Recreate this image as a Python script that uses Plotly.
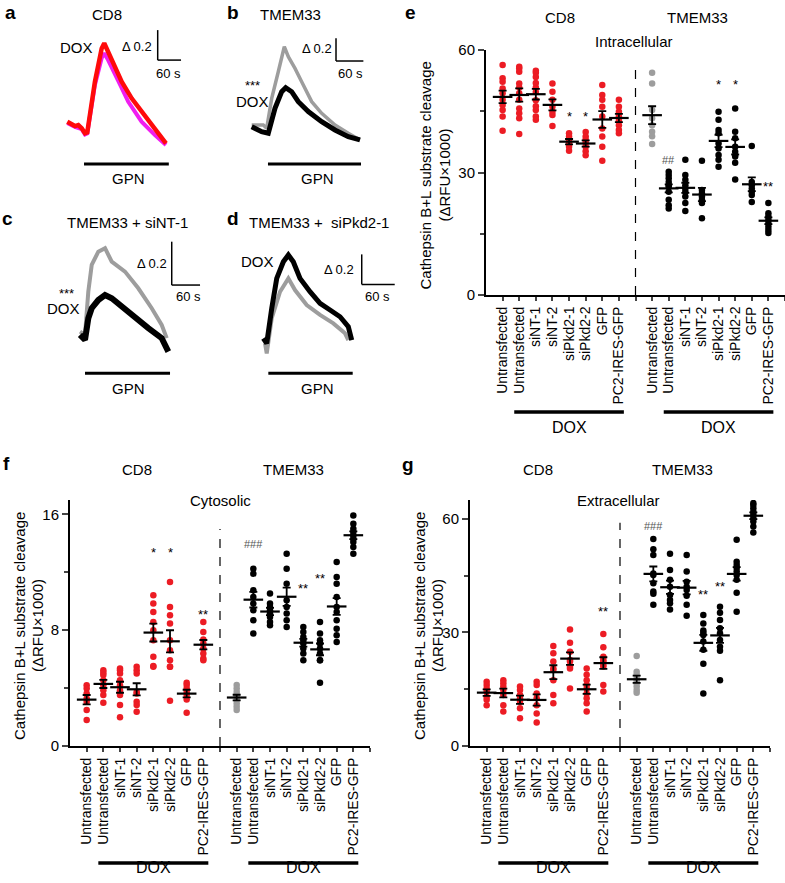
import numpy as np
import plotly.graph_objects as go

W, H = 785, 883
FONT = "Liberation Sans, Arial, sans-serif"
RED = "#ec1c24"
GRAY = "#9d9d9d"

# ---------- a-d : GPN traces (time in s, change in ratio) ----------
a_t_red = [0, 19.8, 28.3, 37, 45.5, 51.4, 71, 88.4, 95, 105, 122.6, 139.8, 165.5, 191, 217, 234, 253.7]
a_v_red = [0, -0.029, -0.022, -0.044, -0.077, -0.071, 0.267, 0.489, 0.523, 0.467, 0.356, 0.267,
           0.156, 0.067, -0.022, -0.077, -0.144]
a_t_mag = [0, 19.8, 37, 45.5, 51.4, 71, 88.4, 95, 105, 122.6, 139.8, 156.8, 191, 225.4, 253.7]
a_v_mag = [-0.009, -0.035, -0.05, -0.085, -0.078, 0.245, 0.425, 0.456, 0.411, 0.311, 0.225, 0.133,
           0, -0.089, -0.155]

b_t_gray = [0, 25.4, 32.9, 43.9, 58.3, 71.5, 80.3, 95, 109.6, 131.6, 153.5, 182.7, 211.8, 237.5]
b_v_gray = [0, 0, -0.029, 0.235, 0.47, 0.691, 0.603, 0.5, 0.382, 0.206, 0.103, 0, -0.073, -0.132]
b_t_black = [0, 21.9, 36.4, 51.1, 65.8, 74.6, 87.7, 102.2, 124.1, 153.5, 182.7, 211.8, 237.5]
b_v_black = [-0.015, -0.059, -0.073, 0.147, 0.294, 0.329, 0.294, 0.206, 0.118, 0.029, -0.044,
             -0.103, -0.132]

c_t_gray = [0, 10.6, 17.6, 24.8, 38.8, 53, 67.2, 95.3, 123.5, 151.9, 173.1, 183.7]
c_v_gray = [0, -0.015, 0.185, 0.308, 0.369, 0.385, 0.323, 0.277, 0.2, 0.108, 0.031, -0.03]
c_t_black = [0, 10.6, 17.6, 24.8, 38.8, 53, 67.2, 88.3, 116.5, 144.7, 173.1, 187.1]
c_v_black = [-0.015, -0.038, 0.062, 0.108, 0.146, 0.169, 0.154, 0.115, 0.062, 0.016, -0.03, -0.092]

d_t_black = [0, 6.2, 15.3, 24.4, 36.4, 45.5, 54.5, 66.7, 84.9, 103.1, 121.3, 139.5, 154.5, 160.7]
d_v_black = [0.033, 0, 0.233, 0.433, 0.544, 0.589, 0.544, 0.433, 0.344, 0.267, 0.222, 0.177,
             0.111, 0.022]
d_t_gray = [3.1, 6.2, 15.3, 30.4, 45.5, 57.6, 78.9, 103.1, 127.3, 148.5, 154.5]
d_v_gray = [0, -0.067, 0.167, 0.344, 0.433, 0.355, 0.255, 0.189, 0.133, 0.067, 0.022]

# GPN application (start, end) in s
gpn_a = (43, 261)
gpn_b = (35.7, 239.7)
gpn_c = (10.6, 190.7)
gpn_d = (9.1, 162.5)

# ---------- e-g : cathepsin B+L substrate cleavage (dRFU x 1000) ----------
categories = ["Untransfected", "Untransfected", "siNT-1", "siNT-2",
              "siPkd2-1", "siPkd2-2", "GFP", "PC2-IRES-GFP"]

e_cd8 = [
    [56.3, 53.1, 52.2, 50.6, 49.4, 47.8, 46.5, 45.3, 43.7, 40.2],
    [55.9, 55.5, 54.7, 51.8, 50.8, 49.4, 47.8, 45.7, 44.5, 43.3, 39.4],
    [54.9, 54.4, 53.4, 51.9, 50.8, 49.7, 47.7, 46.2, 45.3, 43.7, 42.9],
    [51.8, 49.8, 47.8, 46.1, 44.9, 44.1, 41.4],
    [39.6, 38.8, 38.0, 37.3, 36.3, 35.3],
    [39.9, 38.8, 38.0, 37.3, 36.3, 35.2, 34.2],
    [51.4, 49.0, 47.8, 46.1, 43.7, 40.8, 38.8, 36.3, 32.9],
    [47.8, 46.1, 44.9, 43.7, 42.7, 41.6, 40.4, 39.6],
]
e_tmem = [
    [54.4, 51.8, 45.3, 43.3, 41.6, 40.0, 38.9, 37.0],
    [30.2, 29.4, 28.6, 27.7, 26.9, 26.5, 25.3, 23.3, 22.0, 21.2],
    [33.1, 29.4, 28.2, 26.9, 26.1, 25.3, 24.1, 22.5, 20.6],
    [32.9, 25.7, 24.9, 24.1, 23.3, 22.5, 18.8],
    [44.9, 42.9, 40.4, 39.6, 37.1, 35.9, 34.3, 33.1, 31.4],
    [45.7, 40.0, 38.4, 36.3, 35.1, 33.9, 32.4, 28.3],
    [36.5, 27.7, 26.9, 26.1, 25.3, 24.5, 22.8],
    [22.5, 20.0, 19.2, 18.4, 17.6, 16.7, 15.9, 15.2],
]

f_cd8 = [
    [4.2, 3.98, 3.63, 3.29, 3.06, 2.48, 1.79],
    [5.24, 5.06, 4.9, 4.55, 4.2, 3.86, 3.52, 2.99],
    [5.36, 5.24, 5.01, 4.55, 4.2, 3.86, 3.52, 2.83, 1.98],
    [5.47, 5.24, 5.01, 3.74, 3.63, 3.06, 2.83, 2.37],
    [10.41, 9.84, 9.26, 8.57, 8.0, 7.31, 6.16, 5.47, 5.52],
    [11.33, 9.61, 9.03, 8.46, 7.31, 6.62, 5.93, 5.47, 5.47, 3.12],
    [4.37, 4.21, 3.98, 3.74, 3.52, 3.22, 2.3],
    [8.57, 7.88, 7.36, 7.08, 6.74, 6.39, 6.05, 5.93],
]
f_tmem = [
    [4.21, 3.98, 3.74, 3.52, 3.4, 3.17, 2.94, 2.71, 2.48],
    [12.25, 11.91, 10.76, 10.30, 9.84, 9.38, 8.69, 7.77],
    [10.53, 9.84, 9.61, 9.38, 9.15, 8.92, 8.57, 8.34],
    [13.29, 12.25, 11.22, 10.07, 9.61, 9.15, 8.69, 8.23],
    [8.23, 7.88, 7.54, 7.31, 7.08, 6.74, 6.39, 5.93],
    [8.57, 7.77, 7.31, 7.08, 6.74, 6.39, 5.93, 5.93, 4.37],
    [12.71, 11.68, 11.22, 10.30, 9.61, 9.26, 8.69, 8.11, 7.65, 7.19],
    [15.93, 15.36, 15.01, 14.78, 14.55, 14.32, 14.09, 13.75, 13.29],
]

g_cd8 = [
    [17.0, 16.1, 15.2, 14.4, 13.0, 12.2, 10.8],
    [17.4, 16.6, 15.7, 14.8, 13.5, 10.8, 9.1],
    [15.7, 14.8, 13.5, 12.6, 11.7, 10.0, 7.3],
    [17.0, 16.1, 13.9, 12.6, 10.8, 8.6, 6.2],
    [26.4, 24.5, 22.3, 20.5, 20.1, 17.4, 13.5, 11.3],
    [30.8, 27.3, 24.9, 22.7, 20.5, 22.3, 21.0, 15.2],
    [20.5, 18.8, 17.4, 16.1, 15.2, 13.9, 12.6, 11.3, 9.1],
    [29.6, 26.1, 23.6, 22.7, 21.4, 22.3, 21.0, 16.1, 14.4],
]
g_tmem = [
    [23.8, 19.6, 18.8, 17.9, 17.4, 16.6, 15.7, 14.8, 14.1],
    [54.7, 52.0, 50.5, 45.6, 45.2, 43.0, 40.8, 40.2, 37.3],
    [50.8, 46.5, 43.9, 42.1, 39.9, 38.6, 37.7, 36.1],
    [50.5, 46.1, 43.4, 42.1, 41.2, 39.7, 37.3, 34.4],
    [34.6, 32.4, 30.5, 29.9, 29.3, 27.6, 25.4, 21.7, 13.9],
    [36.8, 35.2, 33.3, 31.1, 29.8, 28.0, 26.2, 25.2, 17.4],
    [54.5, 48.7, 47.8, 47.0, 46.1, 45.2, 43.9, 40.5, 35.5],
    [64.2, 63.7, 62.8, 61.9, 61.1, 60.2, 59.3, 58.0, 56.4],
]

# significance marks: (position, height, text)
e_sig = [(4, 44.5, "*"), (5, 44.5, "*"), (10, 33.9, "##"), (13, 52.2, "*"), (14, 52.2, "*"), (16, 27.4, "**")]
f_sig = [(4, 13.6, "*"), (5, 13.6, "*"), (7, 9.3, "**"), (10, 14.2, "###"), (13, 11.1, "**"),
         (14, 11.8, "**"), (16, 17.3, "***")]
g_sig = [(7, 36.4, "**"), (10, 59.0, "###"), (13, 40.8, "**"), (14, 43.0, "**"), (16, 69.7, "***")]


def pxx(x):
    return x / W


def pxy(y):
    return 1 - y / H


fig = go.Figure()
ann = []
shapes = []


def txt(x, y, s, size=15, **kw):
    d = dict(x=pxx(x), y=pxy(y), xref="paper", yref="paper", text=s, showarrow=False,
             font=dict(size=size, family=FONT, color="black"), xanchor="center", yanchor="middle")
    d.update(kw)
    ann.append(d)


def trace_axes(n, xdom, ydom, xr, yr):
    fig.layout["xaxis%d" % n] = dict(domain=[pxx(xdom[0]), pxx(xdom[1])], range=xr, visible=False,
                                     anchor="y%d" % n, automargin=False)
    fig.layout["yaxis%d" % n] = dict(domain=[pxy(ydom[1]), pxy(ydom[0])], range=yr, visible=False,
                                     anchor="x%d" % n, automargin=False)


def line(n, x0, y0, x1, y1, w, xref=None, yref=None, dash="solid"):
    shapes.append(dict(type="line", xref=xref or "x%d" % n, yref=yref or "y%d" % n,
                       x0=x0, y0=y0, x1=x1, y1=y1, line=dict(color="black", width=w, dash=dash)))


def add_line(n, t, v, color, w):
    fig.add_trace(go.Scatter(x=t, y=v, mode="lines", line=dict(color=color, width=w),
                             xaxis="x%d" % n, yaxis="y%d" % n, hoverinfo="skip"))


# panel a
trace_axes(1, (55, 195), (25, 185), [-31.6, 328.3], [-0.422, 0.645])
add_line(1, a_t_mag, a_v_mag, "#f01ef0", 4)
add_line(1, a_t_red, a_v_red, "#ff0a0a", 4.5)
line(1, 232.4, 0.411, 232.4, 0.611, 1.5)
line(1, 232.4, 0.411, 292.4, 0.411, 1.5)
line(1, gpn_a[0], -0.282, gpn_a[1], -0.282, 3)

# panel b
trace_axes(2, (235, 375), (25, 185), [-36.6, 270.4], [-0.530, 0.883])
add_line(2, b_t_gray, b_v_gray, GRAY, 3.5)
add_line(2, b_t_black, b_v_black, "black", 5)
line(2, 184.9, 0.565, 184.9, 0.765, 1.5)
line(2, 184.9, 0.565, 244.9, 0.565, 1.5)
line(2, gpn_b[0], -0.344, gpn_b[1], -0.344, 3)

# panel c
trace_axes(3, (65, 210), (225, 380), [-31.8, 275.4], [-0.223, 0.492])
add_line(3, c_t_gray, c_v_gray, GRAY, 4)
add_line(3, c_t_black, c_v_black, "black", 6)
line(3, 194.3, 0.215, 194.3, 0.415, 1.5)
line(3, 194.3, 0.215, 254.3, 0.215, 1.5)
line(3, gpn_c[0], -0.192, gpn_c[1], -0.192, 3)

# panel d
trace_axes(4, (240, 400), (225, 385), [-42.4, 248.5], [-0.278, 0.789])
add_line(4, d_t_gray, d_v_gray, GRAY, 4)
add_line(4, d_t_black, d_v_black, "black", 5)
line(4, 178.9, 0.393, 178.9, 0.593, 1.5)
line(4, 178.9, 0.393, 238.9, 0.393, 1.5)
line(4, gpn_d[0], -0.2, gpn_d[1], -0.2, 3)

# panel letters (top of text box at y0)
for (x, y, s) in [(10, 0, "a"), (233, 0, "b"), (7, 206, "c"), (233, 206, "d"),
                  (410, 0, "e"), (6, 451, "f"), (408, 452, "g")]:
    txt(x, y, "<b>%s</b>" % s, size=19, yanchor="top")
txt(107, 15, "CD8")
txt(76, 48, "DOX")
txt(137, 47, "Δ 0.2", size=13)
txt(168, 73, "60 s", size=13)
txt(128, 179, "GPN")
txt(290, 15, "TMEM33")
txt(252, 85, "***", size=13)
txt(252, 102, "DOX")
txt(317, 49, "Δ 0.2", size=13)
txt(350, 73, "60 s", size=13)
txt(317, 179, "GPN")
txt(127, 223, "TMEM33 + siNT-1")
txt(66, 293, "***", size=13)
txt(63, 309, "DOX")
txt(152, 263, "Δ 0.2", size=13)
txt(188, 296, "60 s", size=13)
txt(128, 388, "GPN")
txt(319, 223, "TMEM33 +  siPkd2-1")
txt(257, 261, "DOX")
txt(339, 269, "Δ 0.2", size=13)
txt(377, 296, "60 s", size=13)
txt(317, 388, "GPN")


def dot_panel(n, xdom, ydom, ymax, major, minor, cd8, tmem, sig, dash_top, dox_y,
              title_y, ttl, ttl_pos, ylab_x):
    xa, ya = "x%d" % n, "y%d" % n
    groups = cd8 + tmem
    for i, vals in enumerate(groups):
        pos = i if i < 8 else i + 1
        col = RED if i < 8 else (GRAY if i == 8 else "black")
        fig.add_trace(go.Scatter(x=[pos] * len(vals), y=vals, mode="markers",
                                 marker=dict(color=col, size=6.5), xaxis=xa, yaxis=ya, hoverinfo="skip"))
        m = float(np.mean(vals))
        s = float(np.std(vals, ddof=1) / np.sqrt(len(vals)))
        fig.add_trace(go.Scatter(x=[pos], y=[m], mode="markers",
                                 marker=dict(symbol="line-ew", size=14, line=dict(width=2.2, color="black")),
                                 error_y=dict(type="data", array=[s], width=4, thickness=1.8, color="black"),
                                 xaxis=xa, yaxis=ya, hoverinfo="skip"))
    fig.layout["xaxis%d" % n] = dict(
        domain=[pxx(xdom[0]), pxx(xdom[1])], range=[-1, 17], anchor=ya, automargin=False,
        tickvals=list(range(18)), ticktext=categories + [""] + categories + [""],
        tickangle=-90, ticks="outside", ticklen=4, tickwidth=1.5, showline=True, linewidth=2,
        linecolor="black", showgrid=False, zeroline=False,
        tickfont=dict(size=14, family=FONT, color="black"))
    fig.layout["yaxis%d" % n] = dict(
        domain=[pxy(ydom[1]), pxy(ydom[0])], range=[0, ymax], anchor=xa, automargin=False,
        tickvals=major, ticks="outside", ticklen=6, tickwidth=1.5, showline=True, linewidth=2,
        linecolor="black", showgrid=False, zeroline=False,
        minor=dict(tickvals=minor, ticks="outside", ticklen=4, tickwidth=1.5, showgrid=False),
        tickfont=dict(size=15, family=FONT, color="black"))
    line(n, 8, 0, 8, dash_top, 1.2, dash="dash")
    for (x0, x1, xc) in [(0.7, 7.3, 4.0), (9.7, 16.3, 13.0)]:
        line(n, x0, pxy(dox_y), x1, pxy(dox_y), 3.5, yref="paper")
        ann.append(dict(x=xc, y=pxy(dox_y + 15), xref=xa, yref="paper", text="DOX", showarrow=False,
                        font=dict(size=16, family=FONT, color="black")))
    for (p, h, s) in sig:
        ann.append(dict(x=p, y=h, xref=xa, yref=ya, text=s, showarrow=False, yshift=-3,
                        font=dict(size=13 if "*" in s else 11, family=FONT,
                                  color="black" if "*" in s else "#555555")))
    txt(title_y[0], title_y[2], "CD8")
    txt(title_y[1], title_y[2], "TMEM33")
    txt(ttl_pos[0], ttl_pos[1], ttl)
    yc = (ydom[0] + ydom[1]) / 2 + 3
    txt(ylab_x[0], yc, "Cathepsin B+L substrate cleavage", size=15, textangle=-90)
    txt(ylab_x[1], yc, "(ΔRFU×1000)", size=15, textangle=-90)


dot_panel(5, (486, 785), (50, 295), 60, [0, 30, 60], [15, 45], e_cd8, e_tmem, e_sig, 56.8, 412,
          (560, 697, 17), "Intracellular", (634, 42), (425, 444))
dot_panel(6, (70, 370), (500, 746), 17, [0, 8, 16], [4, 12], f_cd8, f_tmem, f_sig, 15.0, 863,
          (137, 293, 470), "Cytosolic", (220, 500), (19, 37))
dot_panel(7, (470, 770), (500, 746), 65, [0, 30, 60], [15, 45], g_cd8, g_tmem, g_sig, 59.0, 863,
          (538, 682, 470), "Extracellular", (618, 500), (419, 437))

fig.update_layout(template="none", width=W, height=H, margin=dict(l=0, r=0, t=0, b=0),
                  paper_bgcolor="white", plot_bgcolor="white", showlegend=False,
                  annotations=ann, shapes=shapes, font=dict(family=FONT, color="black"))

# page body has a default 8px margin; drop it so the figure fills the window
fig.write_html("out.html", config={"displayModeBar": False},
               post_script="document.body.style.margin='0';")
